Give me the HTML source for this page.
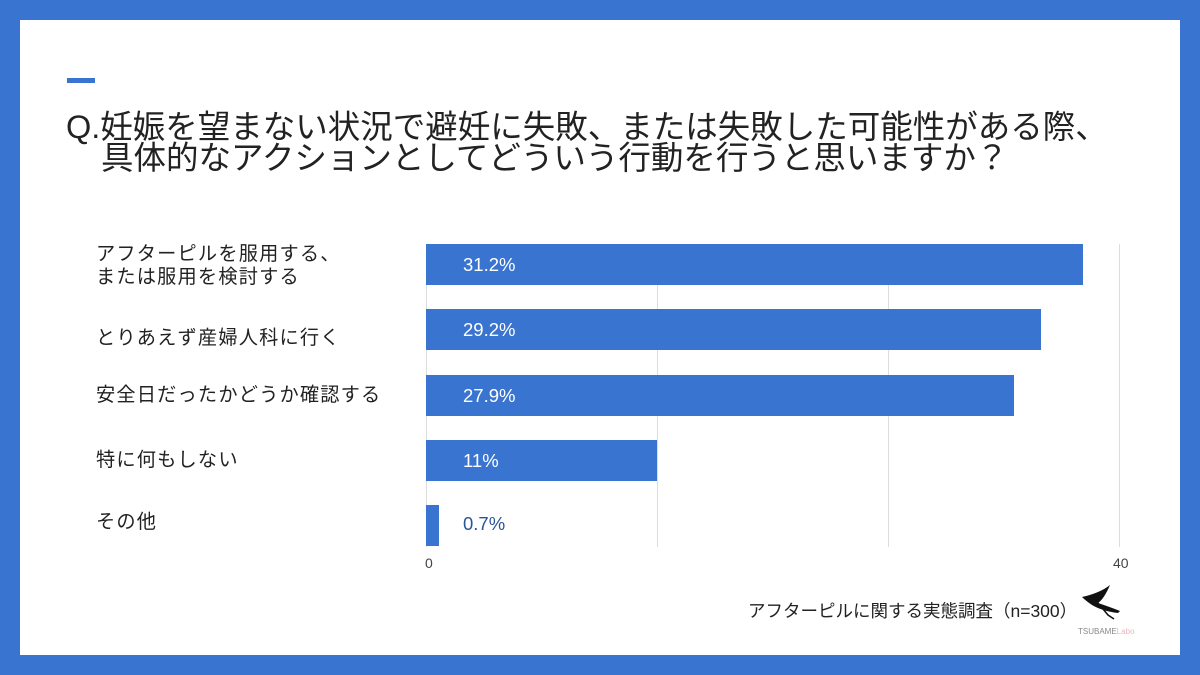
<!DOCTYPE html>
<html><head><meta charset="utf-8"><style>
body{margin:0;width:1200px;height:675px;background:#3a74d1;position:relative;overflow:hidden;font-family:"Liberation Sans","Noto Sans CJK JP",sans-serif;color:#222}
.panel{position:absolute;left:20px;top:20px;width:1160px;height:635px;background:#fff}
.abs{position:absolute;white-space:nowrap}
.bar{position:absolute;left:426px;height:41px;background:#3a74d1}
.v{position:absolute;left:463px;font-size:18.5px;color:#fff;line-height:41px}
.lab{position:absolute;left:96px;font-size:19.2px;color:#222;line-height:23px;letter-spacing:1.2px}
.grid{position:absolute;top:244px;height:303px;width:1px;background:#ddd}
</style></head><body>
<div class="panel"></div>
<div class="abs" style="left:67px;top:78px;width:28px;height:5px;background:#3a74d1"></div>
<div class="abs" style="left:66px;top:110px;font-size:32.5px;line-height:34px">Q.妊娠を望まない状況で避妊に失敗、または失敗した可能性がある際、</div>
<div class="abs" style="left:101px;top:141px;font-size:32.5px;line-height:34px">具体的なアクションとしてどういう行動を行うと思いますか？</div>
<div class="grid" style="left:426px"></div>
<div class="grid" style="left:657px"></div>
<div class="grid" style="left:888px"></div>
<div class="grid" style="left:1119px"></div>
<div class="bar" style="top:244px;width:657px"></div>
<div class="bar" style="top:309px;width:615px"></div>
<div class="bar" style="top:375px;width:588px"></div>
<div class="bar" style="top:440px;width:231px"></div>
<div class="bar" style="top:505px;width:13px"></div>
<div class="v" style="top:244px">31.2%</div>
<div class="v" style="top:309px">29.2%</div>
<div class="v" style="top:375px">27.9%</div>
<div class="v" style="top:440px">11%</div>
<div class="v" style="top:503px;color:#2b5599">0.7%</div>
<div class="lab" style="top:243px">アフターピルを服用する、<br>または服用を検討する</div>
<div class="lab" style="top:327px">とりあえず産婦人科に行く</div>
<div class="lab" style="top:384px">安全日だったかどうか確認する</div>
<div class="lab" style="top:449px">特に何もしない</div>
<div class="lab" style="top:511px">その他</div>
<div class="abs" style="left:425px;top:555px;font-size:14px;color:#444">0</div>
<div class="abs" style="left:1113px;top:555px;font-size:14px;color:#444">40</div>
<div class="abs" style="left:748px;top:598px;font-size:17.5px;color:#222">アフターピルに関する実態調査（n=300）</div>
<svg class="abs" style="left:1080px;top:585px" width="50" height="40" viewBox="0 0 50 40">
<path d="M2 12 Q20 8 30 0 Q24 14 18 18 Q30 22 40 26 L38 28 Q22 26 12 20 Q6 16 2 12Z" fill="#111"/>
<path d="M18 18 L28 30 L34 34" stroke="#111" stroke-width="1.5" fill="none"/>
</svg>
<div class="abs" style="left:1078px;top:627px;font-size:8px;color:#888">TSUBAME<span style="color:#e8b8c0">Labo</span></div>
</body></html>
